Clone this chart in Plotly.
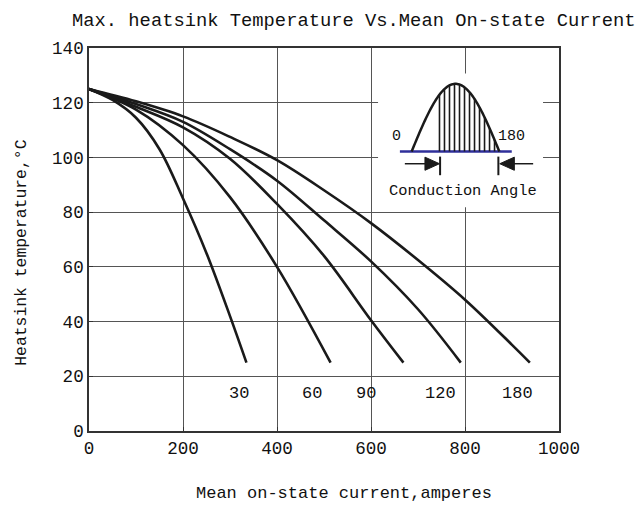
import numpy as np
import plotly.graph_objects as go

FONT = "Liberation Mono"

# ---- data ----
x30 = [0, 50, 100, 150, 200, 250, 300, 335]
y30 = [125, 121, 114.5, 103, 85, 65, 42, 25]

x60 = [0, 100, 200, 300, 400, 514]
y60 = [125, 117.5, 104.5, 85.5, 60, 25]

x90 = [0, 100, 200, 300, 400, 500, 600, 669]
y90 = [125, 118.5, 111, 99.5, 83, 64, 40.5, 25]

x120 = [0, 100, 200, 300, 400, 500, 600, 700, 791]
y120 = [125, 119.5, 113, 103, 91.5, 77, 62, 44.5, 25]

x180 = [0, 100, 200, 300, 400, 500, 600, 700, 800, 900, 938]
y180 = [125, 120.5, 115, 107.5, 99, 88, 76, 62.5, 48, 31.5, 25]

curve_labels = ["30", "60", "90", "120", "180"]
label_x = [320, 475, 589, 748, 912]
label_y = [13.8, 13.8, 13.8, 13.8, 13.8]

x_ticks = [0, 200, 400, 600, 800, 1000]
y_ticks = [0, 20, 40, 60, 80, 100, 120, 140]

series = [(x30, y30), (x60, y60), (x90, y90), (x120, y120), (x180, y180)]

fig = go.Figure()
for xs, ys in series:
    fig.add_trace(go.Scatter(x=xs, y=ys, mode="lines", hoverinfo="skip",
                             line=dict(color="#1a1a1a", width=2.6,
                                       shape="spline", smoothing=1.0)))

for t, lx, ly in zip(curve_labels, label_x, label_y):
    fig.add_annotation(x=lx, y=ly, text=t, showarrow=False,
                       font=dict(family=FONT, size=17, color="#111"))

# ---- inset (conduction angle sketch) ----
shapes = []
shapes.append(dict(type="rect", xref="x", yref="y", x0=615, x1=966, y0=81.8, y1=130.7,
                   fillcolor="white", line=dict(width=0), layer="between"))
base = 102.2
sx0, sx1, amp = 686.5, 873.0, 24.7
sxs = np.linspace(sx0, sx1, 80)
sys_ = base + amp * np.sin(np.pi * (sxs - sx0) / (sx1 - sx0))
path = "M " + " L ".join(f"{a:.2f},{b:.2f}" for a, b in zip(sxs, sys_))
shapes.append(dict(type="line", xref="x", yref="y", x0=661.5, x1=899.5, y0=base, y1=base,
                   line=dict(color="#2f2f9a", width=2.5), layer="above"))
shapes.append(dict(type="path", xref="x", yref="y", path=path,
                   line=dict(color="#1a1a1a", width=2.5), layer="above"))
for k in range(12):
    hx = 745.7 + k * 10.65
    hy = base + amp * np.sin(np.pi * (hx - sx0) / (sx1 - sx0))
    shapes.append(dict(type="line", xref="x", yref="y", x0=hx, x1=hx, y0=base, y1=hy,
                       line=dict(color="#1a1a1a", width=1.6), layer="above"))
ay = 97.7
# left arrow
shapes.append(dict(type="line", xref="x", yref="y", x0=672, x1=730, y0=ay, y1=ay,
                   line=dict(color="#1a1a1a", width=1.5), layer="above"))
shapes.append(dict(type="path", xref="x", yref="y",
                   path=f"M 745.7,{ay} L 714.8,{ay+2.4} L 714.8,{ay-2.4} Z",
                   fillcolor="#1a1a1a", line=dict(color="#1a1a1a", width=1), layer="above"))
shapes.append(dict(type="line", xref="x", yref="y", x0=747, x1=747, y0=93.5, y1=100.3,
                   line=dict(color="#1a1a1a", width=2), layer="above"))
# right arrow
shapes.append(dict(type="line", xref="x", yref="y", x0=890, x1=945, y0=ay, y1=ay,
                   line=dict(color="#1a1a1a", width=1.5), layer="above"))
shapes.append(dict(type="path", xref="x", yref="y",
                   path=f"M 874,{ay} L 905,{ay+2.4} L 905,{ay-2.4} Z",
                   fillcolor="#1a1a1a", line=dict(color="#1a1a1a", width=1), layer="above"))
shapes.append(dict(type="line", xref="x", yref="y", x0=871, x1=871, y0=93.5, y1=100.3,
                   line=dict(color="#1a1a1a", width=2), layer="above"))

fig.add_annotation(x=654.5, y=107.7, text="0", showarrow=False,
                   font=dict(family=FONT, size=15, color="#111"))
fig.add_annotation(x=899.5, y=107.7, text="180", showarrow=False,
                   font=dict(family=FONT, size=15, color="#111"))
fig.add_annotation(x=796, y=87.6, text="Conduction Angle", showarrow=False,
                   font=dict(family=FONT, size=15.4, color="#111"))

# ---- titles ----
fig.add_annotation(xref="paper", yref="paper", x=0.5647, y=1.0 + (47.5 - 20) / 383.5,
                   text="Max. heatsink Temperature Vs.Mean On-state Current",
                   showarrow=False, xanchor="center", yanchor="middle",
                   font=dict(family=FONT, size=18.8, color="#111"))
fig.add_annotation(xref="paper", yref="paper", x=(344.5 - 89.4) / 469.5,
                   y=-(494 - 431) / 383.5,
                   text="Mean on-state current,amperes", showarrow=False,
                   xanchor="center", yanchor="middle",
                   font=dict(family=FONT, size=17, color="#111"))
fig.add_annotation(xref="paper", yref="paper", x=-(89.4 - 22) / 469.5,
                   y=(431 - 253) / 383.5, textangle=-90,
                   text="Heatsink temperature,°C", showarrow=False,
                   xanchor="center", yanchor="middle",
                   font=dict(family=FONT, size=16.4, color="#111"))

axis_common = dict(showgrid=True, gridcolor="#555", gridwidth=1, zeroline=False,
                   showline=True, linecolor="#333", linewidth=1.5, mirror=True,
                   ticks="inside", ticklen=4, tickcolor="#333",
                   tickfont=dict(family=FONT, size=17.6, color="#111"))

fig.update_layout(
    width=638, height=508,
    margin=dict(l=89, r=79, t=48, b=77),
    paper_bgcolor="white", plot_bgcolor="white",
    showlegend=False,
    shapes=shapes,
    xaxis=dict(range=[0, 1000], tickvals=x_ticks, **axis_common),
    yaxis=dict(range=[0, 140], tickvals=y_ticks, **axis_common),
)
fig.write_html("out.html", config={"displayModeBar": False},
               post_script="document.body.style.margin='0';document.body.style.overflow='hidden';")
